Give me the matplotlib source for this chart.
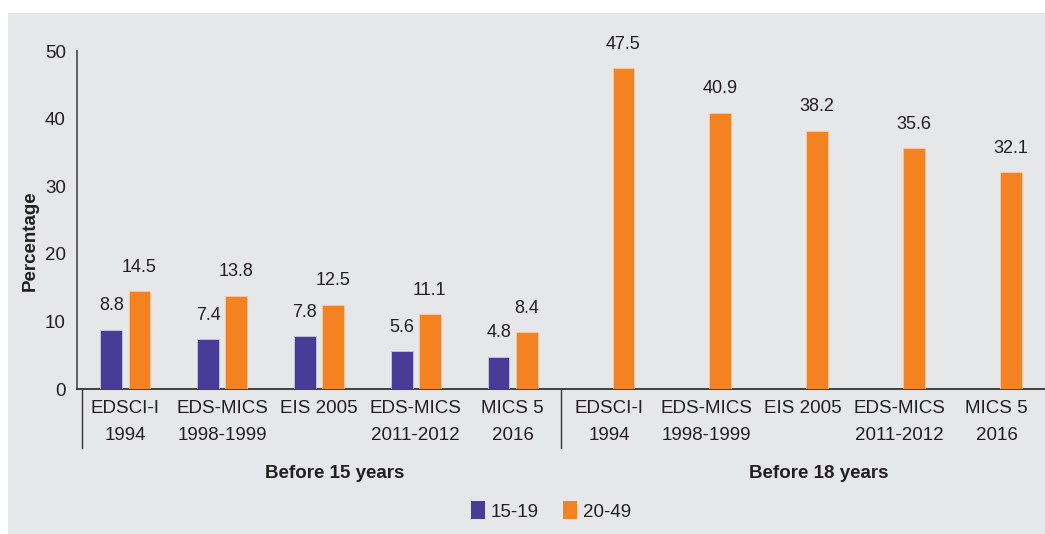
import matplotlib
matplotlib.use("Agg")
import matplotlib.pyplot as plt
from matplotlib.patches import Rectangle, Patch
import numpy as np

plt.rcParams['font.family'] = ['Liberation Sans Narrow', 'Liberation Sans', 'DejaVu Sans']

categories = ["EDSCI-I\n1994", "EDS-MICS\n1998-1999", "EIS 2005", "EDS-MICS\n2011-2012", "MICS 5\n2016",
              "EDSCI-I\n1994", "EDS-MICS\n1998-1999", "EIS 2005", "EDS-MICS\n2011-2012", "MICS 5\n2016"]
groups = ["Before 15 years", "Before 18 years"]
series_names = ["15-19", "20-49"]
values_15_19 = [8.8, 7.4, 7.8, 5.6, 4.8, None, None, None, None, None]
values_20_49 = [14.5, 13.8, 12.5, 11.1, 8.4, 47.5, 40.9, 38.2, 35.6, 32.1]
yticks = [0, 10, 20, 30, 40, 50]

PURPLE = "#4a3b98"
ORANGE = "#f58220"
BG = "#e6e7e9"
TXT = "#231f20"

fig = plt.figure(figsize=(10.45, 5.34), dpi=100, facecolor="white")
fig.patches.append(Rectangle((8/1045, 0), 1 - 8/1045, 1 - 13/534, transform=fig.transFigure,
                             facecolor=BG, edgecolor="none", zorder=-10))

ax = fig.add_axes([77/1045, 1 - 389/534, 1 - 77/1045, (389 - 51)/534])
ax.set_facecolor("none")
ax.set_zorder(1)

x = np.arange(len(categories))
w = 0.225
off = 0.145
for i, v in enumerate(values_15_19):
    if v is None:
        continue
    ax.bar(x[i] - off, v, w, color=PURPLE, edgecolor="#c9c6e0", linewidth=0.6, zorder=3)
    ax.annotate(f"{v}", (x[i] - off, v), xytext=(0, 11), textcoords="offset points",
                ha="center", va="bottom", fontsize=13, color=TXT)
for i, v in enumerate(values_20_49):
    ax.bar(x[i] + off, v, w, color=ORANGE, edgecolor="#f9c9a0", linewidth=0.6, zorder=3)
    ax.annotate(f"{v}", (x[i] + off, v), xytext=(0, 11), textcoords="offset points",
                ha="center", va="bottom", fontsize=13, color=TXT)

ax.set_xlim(-0.5, 9.5)
ax.set_ylim(0, 50)
ax.set_yticks(yticks)
ax.set_xticks(x)
ax.set_xticklabels(categories)
for lab in ax.get_xticklabels():
    lab.set_linespacing(1.75)
ax.tick_params(axis="x", length=0, pad=8, labelsize=13.5, colors=TXT)
ax.tick_params(axis="y", length=0, pad=8, labelsize=13.5, colors=TXT)
for s in ["top", "right"]:
    ax.spines[s].set_visible(False)
ax.spines["left"].set_color("#555555")
ax.spines["left"].set_linewidth(1.3)
ax.spines["bottom"].set_color("#333333")
ax.spines["bottom"].set_linewidth(1.3)

ax.set_ylabel("Percentage", fontsize=13.5, fontweight="bold", color=TXT)
ax.yaxis.set_label_coords((39 - 77) / 968, (389 - 241) / 338)

# group separators
for sx in [-0.45, 4.5]:
    ax.plot([sx, sx], [0, -0.175], transform=ax.get_xaxis_transform(), color="#333333",
            linewidth=1.0, clip_on=False)

# group labels
for gx, g in zip([2.16, 7.16], groups):
    ax.text(gx, -(473 - 389) / 338, g, transform=ax.get_xaxis_transform(), ha="center", va="center",
            fontsize=13.5, fontweight="bold", color=TXT)

handles = [Patch(facecolor=PURPLE, edgecolor="none"), Patch(facecolor=ORANGE, edgecolor="none")]
fig.legend(handles, series_names, loc="center", bbox_to_anchor=(551/1045, 1 - 511/534), ncol=2,
           frameon=False, fontsize=13.5, handlelength=0.75, handleheight=1.1, handletextpad=0.3,
           columnspacing=1.3, labelcolor=TXT)

fig.savefig("out.png", dpi=100, facecolor="white")
